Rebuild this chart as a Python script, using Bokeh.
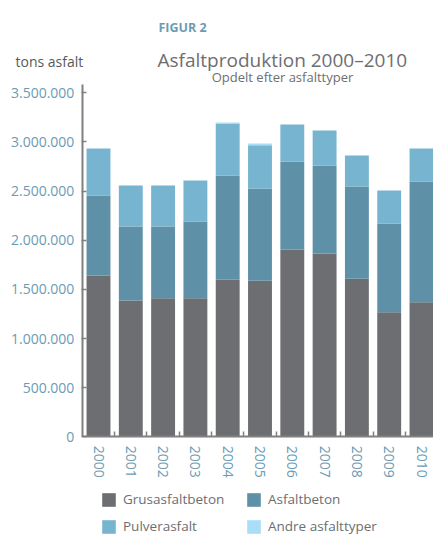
import math
from bokeh.plotting import figure
from bokeh.models import (ColumnDataSource, Legend, LegendItem, FixedTicker, Range1d, LinearAxis)
from bokeh.core.properties import value
from bokeh.embed import file_html
from bokeh.resources import INLINE

years = ["2000", "2001", "2002", "2003", "2004", "2005", "2006", "2007", "2008", "2009", "2010"]
grusasfaltbeton = [1641000, 1386000, 1410000, 1410000, 1597000, 1587000, 1905000, 1864000, 1607000, 1268000, 1369000]
asfaltbeton = [814000, 754000, 730000, 781000, 1061000, 936000, 894000, 894000, 940000, 902000, 1228000]
pulverasfalt = [478000, 416000, 416000, 416000, 529000, 444000, 378000, 358000, 315000, 336000, 336000]
andre_asfalttyper = [0, 0, 0, 0, 11000, 17000, 0, 0, 0, 0, 0]
series_names = ["Grusasfaltbeton", "Asfaltbeton", "Pulverasfalt", "Andre asfalttyper"]
series_colors = ["#6d6e71", "#5e90a8", "#77b4d0", "#a9def6"]
y_ticks = [0, 500000, 1000000, 1500000, 2000000, 2500000, 3000000, 3500000]
y_tick_labels = ["0", "500.000", "1.000.000", "1.500.000", "2.000.000", "2.500.000", "3.000.000", "3.500.000"]
figure_label = "FIGUR 2"
title_text = "Asfaltproduktion 2000–2010"
subtitle_text = "Opdelt efter asfalttyper"
unit_text = "tons asfalt"

FONT = "Open Sans"
BLUE = "#6b9bb4"
GREY = "#6d6e71"
AXIS = "#808080"

# canvas geometry (pixels)
W, H = 433, 537
X0_PX, X_STEP = 98.0, 32.3        # pixel centre of first bar, pixels per category
Y0_PX, Y_SCALE = 436.3, 98.29e-6  # pixel of value 0, pixels per ton

x = list(range(len(years)))
source = ColumnDataSource(dict(x=x, g=grusasfaltbeton, a=asfaltbeton, p=pulverasfalt, o=andre_asfalttyper))

p = figure(width=W, height=H, output_backend="svg", toolbar_location=None,
           x_range=Range1d(-X0_PX / X_STEP, (W - X0_PX) / X_STEP),
           y_range=Range1d(-(H - Y0_PX) / Y_SCALE, Y0_PX / Y_SCALE),
           x_axis_type=None, y_axis_type=None, min_border=0)
p.extra_x_ranges = {"px": Range1d(0, W)}
p.extra_y_ranges = {"py": Range1d(H, 0)}
p.outline_line_color = None
p.grid.visible = False

rs = p.vbar_stack(["g", "a", "p", "o"], x="x", width=0.74, color=series_colors,
                  line_color=None, source=source)

# x axis, fixed at value 0
xa = LinearAxis(fixed_location=0, bounds=(-0.5, (W - X0_PX) / X_STEP))
xa.ticker = FixedTicker(ticks=x, minor_ticks=[i + 0.5 for i in range(len(years) - 1)])
xa.major_label_overrides = {i: years[i] for i in x}
xa.major_label_orientation = -math.pi / 2
xa.major_tick_line_color = None
xa.minor_tick_in = 5
xa.minor_tick_out = 0
xa.minor_tick_line_color = AXIS
xa.minor_tick_line_width = 1.5
xa.axis_line_color = AXIS
xa.axis_line_width = 2
xa.major_label_text_color = BLUE
xa.major_label_text_font = FONT
xa.major_label_text_font_size = "14px"
xa.major_label_standoff = 3
p.add_layout(xa, "below")

# y axis, fixed at left edge of first category
ya = LinearAxis(fixed_location=-0.5, bounds=(0, 3580000))
ya.ticker = FixedTicker(ticks=y_ticks)
ya.major_label_overrides = {t: l for t, l in zip(y_ticks, y_tick_labels)}
ya.major_tick_in = 4
ya.major_tick_out = 1
ya.major_tick_line_color = AXIS
ya.major_tick_line_width = 1.5
ya.minor_tick_line_color = None
ya.axis_line_color = AXIS
ya.axis_line_width = 2
ya.major_label_text_color = BLUE
ya.major_label_text_font = FONT
ya.major_label_text_font_size = "14px"
ya.major_label_standoff = 7
p.add_layout(ya, "left")

# header texts in pixel coordinates
def txt(xp, yp, t, size, color, style="normal", align="left"):
    p.text(x=[xp], y=[yp], text=[t], x_range_name="px", y_range_name="py",
           text_font=value(FONT), text_font_size=size, text_font_style=style,
           text_color=color, text_align=align, text_baseline="alphabetic")

txt(158, 27, figure_label, "12.5px", BLUE, "bold")
txt(157, 59, title_text, "19px", GREY)
txt(282, 76, subtitle_text, "13px", GREY, align="center")
txt(15, 61, unit_text, "14px", "#58595b")

legend = Legend(items=[LegendItem(label=n, renderers=[r]) for n, r in zip(series_names, rs)],
                orientation="horizontal", ncols=2, location=(100, 2),
                glyph_width=17, glyph_height=17, label_standoff=6, label_width=113, label_height=17,
                spacing=9, padding=0, margin=0, border_line_color=None, background_fill_alpha=0,
                label_text_font=FONT, label_text_font_size="13.5px", label_text_color=GREY)
p.add_layout(legend)

open("out.html", "w").write(file_html(p, INLINE))
